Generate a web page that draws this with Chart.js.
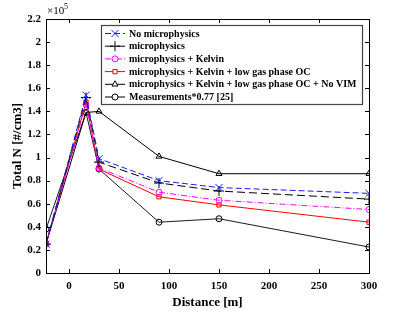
<!DOCTYPE html>
<html>
<head>
<meta charset="utf-8">
<script src="https://cdn.jsdelivr.net/npm/chart.js@4"></script>
<style>
  html, body { margin: 0; padding: 0; background: #fff; }
  #wrap { width: 396px; height: 314px; }
</style>
</head>
<body>
<div id="wrap"><canvas id="chart" width="396" height="314"></canvas></div>
<script>
// distances along the street [m]
var distance = [-23, 17, 30, 90, 150, 300];

// Total N, in units of 1e5 #/cm3
var noMicro     = [0.25, 1.54, 0.99, 0.80, 0.74, 0.69];
var micro       = [0.25, 1.52, 0.96, 0.78, 0.71, 0.64];
var microKelvin = [0.25, 1.46, 0.91, 0.70, 0.63, 0.55];
var microLowOC  = [0.25, 1.48, 0.90, 0.66, 0.59, 0.44];
var microNoVIM  = [0.25, 1.39, 1.40, 1.01, 0.86, 0.86];
var measured    = [0.38, 1.39, 0.90, 0.44, 0.47, 0.225];

var seriesNames = [
  'No microphysics',
  'microphysics',
  'microphysics + Kelvin',
  'microphysics + Kelvin + low gas phase OC',
  'microphysics + Kelvin + low gas phase OC + No VIM',
  'Measurements*0.77 [25]'
];

var yTicks = [0, 0.2, 0.4, 0.6, 0.8, 1, 1.2, 1.4, 1.6, 1.8, 2, 2.2];
var xTicks = [0, 50, 100, 150, 200, 250, 300];

var serif = '"Liberation Serif", "DejaVu Serif", serif';

function pts(vals) {
  return vals.map(function(v, i) { return { x: distance[i], y: v }; });
}

var styles = [
  { color: '#1a1aff', dash: [6, 3], marker: 'crossRot', r: 5, width: 1 },
  { color: '#000000', dash: [8, 4], marker: 'cross', r: 5, width: 1 },
  { color: '#ff00ff', dash: [6, 2, 1, 2], marker: 'circle', r: 3, width: 1 },
  { color: '#ff0000', dash: [], marker: 'rect', r: 3, width: 1 },
  { color: '#000000', dash: [], marker: 'triangle', r: 3.5, width: 1 },
  { color: '#000000', dash: [], marker: 'circle', r: 3, width: 0.9 }
];
var allValues = [noMicro, micro, microKelvin, microLowOC, microNoVIM, measured];

var datasets = [];
for (let i = 0; i < allValues.length; i++) {
  const s = styles[i];
  datasets.push({
    label: seriesNames[i],
    data: pts(allValues[i]),
    borderColor: s.color,
    backgroundColor: 'rgba(0,0,0,0)',
    borderWidth: s.width,
    borderDash: s.dash,
    pointStyle: s.marker,
    pointRadius: s.r,
    pointBorderColor: s.color,
    pointBackgroundColor: 'rgba(0,0,0,0)',
    pointBorderWidth: 1,
    tension: 0,
    fill: false
  });
}

// MATLAB-like box, inward ticks, exponent label and legend
var matlabAxes = {
  id: 'matlabAxes',
  afterDraw: function(chart) {
    const ctx = chart.ctx;
    const a = chart.chartArea;
    const xs = chart.scales.x, ys = chart.scales.y;
    ctx.save();
    ctx.strokeStyle = '#000';
    ctx.lineWidth = 1;
    ctx.setLineDash([]);
    ctx.strokeRect(Math.round(a.left) + 0.5, Math.round(a.top) + 0.5,
      Math.round(a.right - a.left), Math.round(a.bottom - a.top));
    ctx.beginPath();
    xTicks.forEach(function(v) {
      const px = Math.round(xs.getPixelForValue(v)) + 0.5;
      ctx.moveTo(px, a.bottom); ctx.lineTo(px, a.bottom - 4);
      ctx.moveTo(px, a.top); ctx.lineTo(px, a.top + 4);
    });
    yTicks.forEach(function(v) {
      const py = Math.round(ys.getPixelForValue(v)) + 0.5;
      ctx.moveTo(a.left, py); ctx.lineTo(a.left + 4, py);
      ctx.moveTo(a.right, py); ctx.lineTo(a.right - 4, py);
    });
    ctx.stroke();

    // x10^5
    ctx.fillStyle = '#000';
    ctx.textBaseline = 'alphabetic';
    ctx.textAlign = 'left';
    ctx.font = '11px ' + serif;
    ctx.fillText('\u00d710', a.left + 1, a.top - 5);
    ctx.font = '8px ' + serif;
    ctx.fillText('5', a.left + 18, a.top - 10);

    // legend
    const bx = 101, by = 25, bw = 261, bh = 79;
    ctx.fillStyle = '#fff';
    ctx.fillRect(bx, by, bw, bh);
    ctx.strokeStyle = '#444';
    ctx.lineWidth = 1.2;
    ctx.strokeRect(bx + 0.5, by + 0.5, bw, bh);
    ctx.font = 'bold 10px ' + serif;
    ctx.textBaseline = 'middle';
    for (let i = 0; i < datasets.length; i++) {
      const ds = datasets[i];
      const cy = 33.5 + i * 12.7;
      ctx.strokeStyle = ds.borderColor;
      ctx.lineWidth = 1;
      ctx.setLineDash(ds.borderDash);
      ctx.beginPath();
      ctx.moveTo(105, cy); ctx.lineTo(125, cy);
      ctx.stroke();
      ctx.setLineDash([]);
      ctx.fillStyle = '#fff';
      ctx.strokeStyle = ds.borderColor;
      Chart.helpers.drawPoint(ctx, {
        pointStyle: ds.pointStyle,
        radius: ds.pointRadius,
        borderWidth: 1,
        rotation: 0
      }, 115, cy);
      ctx.fillStyle = '#000';
      ctx.fillText(ds.label, 129, cy + 0.5);
    }
    ctx.restore();
  }
};

new Chart(document.getElementById('chart').getContext('2d'), {
  type: 'line',
  data: { datasets: datasets },
  options: {
    responsive: false,
    animation: false,
    layout: { padding: { left: 0, right: 27, top: 19, bottom: 0 } },
    plugins: { legend: { display: false }, tooltip: { enabled: false } },
    scales: {
      x: {
        type: 'linear',
        min: -23,
        max: 300,
        grid: { display: false, drawTicks: false },
        border: { display: false },
        afterFit: function(s) { s.height = 41; },
        afterBuildTicks: function(s) { s.ticks = xTicks.map(function(v) { return { value: v }; }); },
        ticks: {
          includeBounds: false,
          padding: 7,
          color: '#000',
          font: { family: serif, size: 11, weight: 'bold' }
        },
        title: {
          display: true,
          text: 'Distance [m]',
          color: '#000',
          font: { family: serif, size: 13, weight: 'bold' },
          padding: { top: 0, bottom: 4 }
        }
      },
      y: {
        min: 0,
        max: 2.2,
        grid: { display: false, drawTicks: false },
        border: { display: false },
        afterFit: function(s) { s.width = 46; },
        afterBuildTicks: function(s) { s.ticks = yTicks.map(function(v) { return { value: v }; }); },
        ticks: {
          padding: 5,
          color: '#000',
          font: { family: serif, size: 11, weight: 'bold' },
          callback: function(v) { return String(Math.round(v * 10) / 10); }
        },
        title: {
          display: true,
          text: 'Total N [#/cm3]',
          color: '#000',
          font: { family: serif, size: 13, weight: 'bold' },
          padding: { top: 10, bottom: 0 }
        }
      }
    }
  },
  plugins: [matlabAxes]
});
</script>
</body>
</html>
